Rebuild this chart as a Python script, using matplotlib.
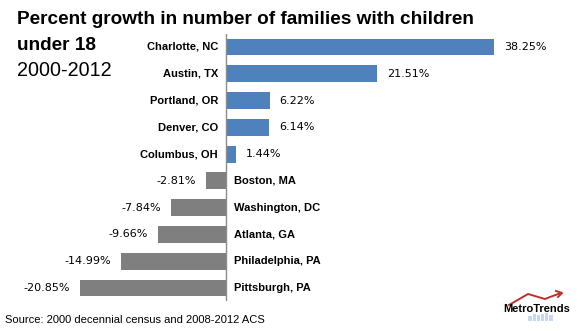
import numpy as np
import matplotlib
matplotlib.use("Agg")
import matplotlib.pyplot as plt

cities = ["Charlotte, NC", "Austin, TX", "Portland, OR", "Denver, CO", "Columbus, OH",
          "Boston, MA", "Washington, DC", "Atlanta, GA", "Philadelphia, PA", "Pittsburgh, PA"]
growth = [38.25, 21.51, 6.22, 6.14, 1.44, -2.81, -7.84, -9.66, -14.99, -20.85]

BLUE = "#4F81BD"
GRAY = "#7F7F7F"
W, H = 583, 331

plt.rcParams["font.family"] = ["Liberation Sans", "DejaVu Sans"]

fig = plt.figure(figsize=(W / 100, H / 100), dpi=100)

# axes placed so that zero sits at x=226 px, 7 px per percent
px_left, px_right, zero_px, scale = 40, 560, 226, 7.0
top_px, bot_px = 33.6, 301.4
ax = fig.add_axes([px_left / W, 1 - bot_px / H, (px_right - px_left) / W, (bot_px - top_px) / H])
ax.set_xlim((px_left - zero_px) / scale, (px_right - zero_px) / scale)

y = np.arange(len(cities))
colors = [BLUE if v >= 0 else GRAY for v in growth]
ax.barh(y, growth, height=0.63, color=colors)
ax.set_ylim(len(cities) - 0.5, -0.5)

for s in ax.spines.values():
    s.set_visible(False)
ax.axvline(0, color="#8C8C8C", lw=1)
ax.set_xticks([])
ax.set_yticks([])

for yi, v, name in zip(y, growth, cities):
    if v >= 0:
        ax.text(-1.15, yi, name, ha="right", va="center", fontsize=8, fontweight="bold")
        ax.text(v + 1.45, yi, f"{v:.2f}%", ha="left", va="center", fontsize=8, family="DejaVu Sans")
    else:
        ax.text(1.15, yi, name, ha="left", va="center", fontsize=8, fontweight="bold")
        ax.text(v - 1.45, yi, f"{v:.2f}%", ha="right", va="center", fontsize=8, family="DejaVu Sans")

# title
fig.text(17 / W, 1 - 20 / H, "Percent growth in number of families with children",
         fontsize=13.7, fontweight="bold", va="center", ha="left")
fig.text(17 / W, 1 - 46 / H, "under 18", fontsize=13.7, fontweight="bold", va="center", ha="left")
fig.text(17 / W, 1 - 70 / H, "2000-2012", fontsize=14.2, va="center", ha="left")

# source
fig.text(5 / W, 1 - 320 / H, "Source: 2000 decennial census and 2008-2012 ACS",
         fontsize=8, va="center", ha="left")

# logo (pixel coordinates)
logo = fig.add_axes([0, 0, 1, 1])
logo.set_xlim(0, W)
logo.set_ylim(H, 0)
logo.axis("off")
for i, hgt in enumerate([5, 7, 6, 7, 8, 6]):
    logo.bar(530 + i * 4.2, hgt, width=3.2, bottom=321 - hgt, color="#C5D9F1")
logo.text(537, 309, "MetroTrends", fontsize=8, fontweight="bold", ha="center", va="center")
logo.plot([509, 528, 545, 550, 561], [305, 294, 299, 297, 293], color="#C0302B", lw=1.4)
logo.plot([556, 562, 558], [291, 293, 297], color="#C0302B", lw=1.4)

fig.savefig("out.png", dpi=100)
